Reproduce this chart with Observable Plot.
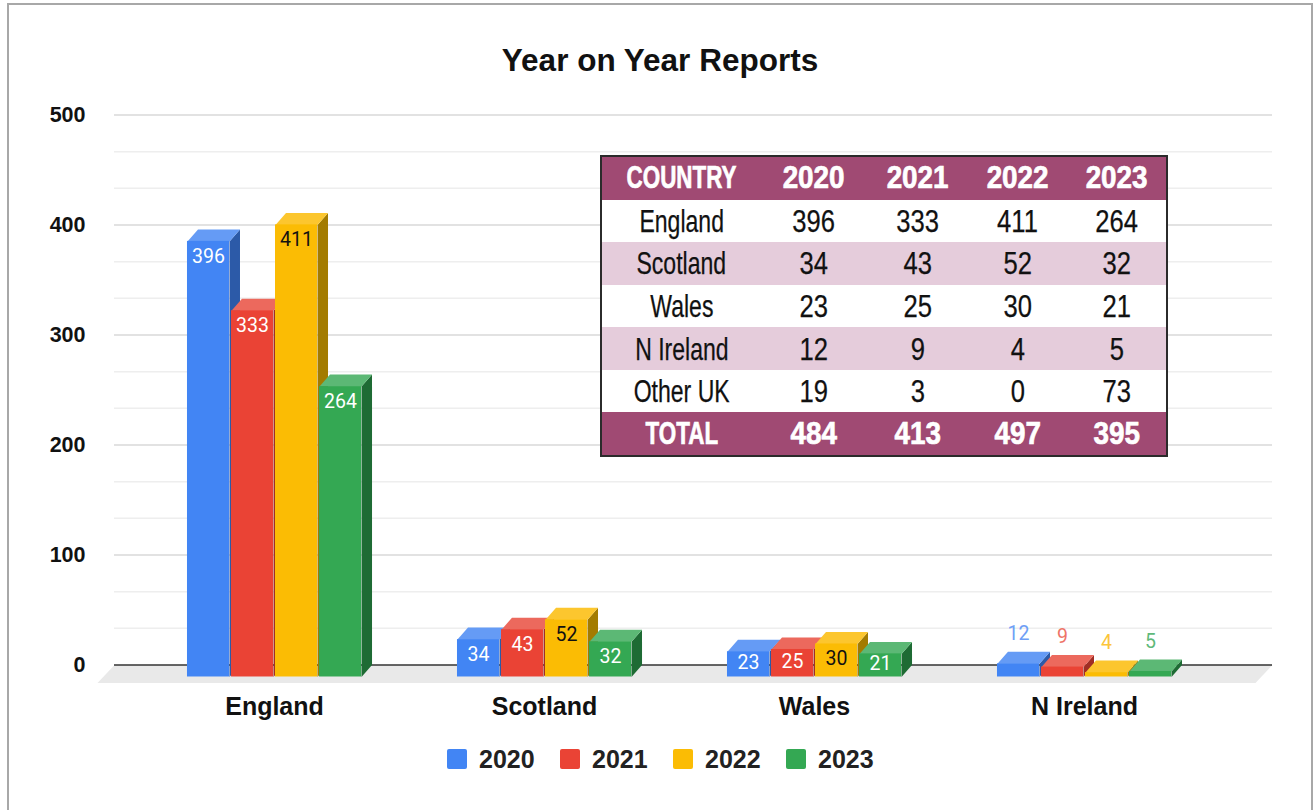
<!DOCTYPE html>
<html>
<head>
<meta charset="utf-8">
<script src="https://cdn.jsdelivr.net/npm/d3@7"></script>
<script src="https://cdn.jsdelivr.net/npm/@observablehq/plot@0.6"></script>
<style>
html,body{margin:0;padding:0;background:#fff;}
#page{position:relative;width:1313px;height:810px;overflow:hidden;background:#fff;font-family:"Liberation Sans",Arial,sans-serif;}
#frame{position:absolute;left:7px;top:3px;width:1306px;height:815px;border:2px solid #a8a8a8;box-sizing:border-box;pointer-events:none;}
#title{height:90px;box-sizing:border-box;padding-top:39px;padding-left:7px;text-align:center;font-weight:bold;font-size:31.5px;line-height:42px;color:#111;}
#chart svg{display:block;}
#legend{position:absolute;left:447px;top:744px;display:flex;align-items:center;font-size:25px;font-weight:bold;color:#222;line-height:30px;}
#legend .sw{width:20px;height:20px;border-radius:2px;margin-right:12px;}
#legend .it{display:flex;align-items:center;margin-right:0;width:113px;}
#tbl{position:absolute;left:600px;top:155px;width:568px;height:302px;border:2px solid #2b2b2b;box-sizing:border-box;border-collapse:collapse;table-layout:fixed;font-family:"Liberation Sans",sans-serif;color:#111;text-align:center;font-size:32px;background:#fff;}
#tbl td{padding:0;height:42.5px;overflow:hidden;line-height:36px;white-space:nowrap;}
#tbl td span{display:inline-block;position:relative;-webkit-text-stroke:0.25px #111;}
#tbl tr.h td{background:#a04a73;color:#fff;font-weight:bold;}
#tbl tr.h td span{top:-1px;-webkit-text-stroke:0.7px #fff;}
#tbl tr.p td{background:#e5ccdb;}
</style>
</head>
<body>
<div id="page">
  <div id="frame"></div>
  <div id="title">Year on Year Reports</div>
  <div id="chart"></div>
  <table id="tbl"></table>
  <div id="legend"></div>
</div>
<script>
const countries = ["England", "Scotland", "Wales", "N Ireland"];
const years = ["2020", "2021", "2022", "2023"];
const v2020 = [396, 34, 23, 12];
const v2021 = [333, 43, 25, 9];
const v2022 = [411, 52, 30, 4];
const v2023 = [264, 32, 21, 5];
const seriesValues = [v2020, v2021, v2022, v2023];

const frontColors = ["#4285f4", "#ea4335", "#fbbc04", "#34a853"];
const topColors = ["#659bf5", "#ec695d", "#fcc62e", "#5cb875"];
const sideColors = ["#2c5aa8", "#a02e25", "#a37b00", "#1e6b34"];
const outerLabelColors = ["#6f9ff6", "#ee7468", "#fcc53a", "#5fb97a"];
const insideTextColors = ["#ffffff", "#ffffff", "#111111", "#ffffff"];

const tableHead = ["COUNTRY", "2020", "2021", "2022", "2023"];
const tableRows = [
  ["England", 396, 333, 411, 264],
  ["Scotland", 34, 43, 52, 32],
  ["Wales", 23, 25, 30, 21],
  ["N Ireland", 12, 9, 4, 5],
  ["Other UK", 19, 3, 0, 73]
];
const tableTotal = ["TOTAL", 484, 413, 497, 395];
const tableCols = [160, 106, 102, 98, 100];

// geometry in data units
const step = 0.163, barW = 0.1556, depthX = 0.0389, depthY = 10.9;
const xDomain = [-0.5926, 3.6963];
const floorX = 0.063, floorY = 16.4;
const labelInset = 13.6, labelLift = 1.8;

const bars = [];
countries.forEach((c, i) => years.forEach((yr, j) => {
  const v = seriesValues[j][i];
  const x1 = i + (j - 1.5) * step - barW / 2;
  const y1 = -depthY, y2 = v - depthY;
  bars.push({c, i, j, yr, v, x1, x2: x1 + barW, xm: x1 + barW / 2, y1, y2,
    labelY: Math.max(y2 - labelInset, (y1 + y2) / 2 + labelLift)});
}));

const faces = [];
bars.forEach(b => {
  const id = b.c + b.yr;
  [[b.x2, b.y1], [b.x2 + depthX, 0], [b.x2 + depthX, b.v], [b.x2, b.y2]].forEach(([x, y]) =>
    faces.push({id: id + "s", x, y, fill: sideColors[b.j]}));
  [[b.x1, b.y2], [b.x2, b.y2], [b.x2 + depthX, b.v], [b.x1 + depthX, b.v]].forEach(([x, y]) =>
    faces.push({id: id + "t", x, y, fill: topColors[b.j]}));
});

const floor = [
  {id: "floor", x: xDomain[0], y: 0},
  {id: "floor", x: xDomain[1], y: 0},
  {id: "floor", x: xDomain[1] - floorX, y: -floorY},
  {id: "floor", x: xDomain[0] - floorX, y: -floorY}
];

const major = [0, 100, 200, 300, 400, 500];
const minor = [];
major.slice(0, -1).forEach(m => { minor.push(m + 100 / 3, m + 200 / 3); });

const insideBars = bars.filter(b => b.i < 3);
const outerBars = bars.filter(b => b.i === 3);

const plot = Plot.plot({
  width: 1313,
  height: 640,
  marginLeft: 114,
  marginRight: 41,
  marginTop: 24.5,
  marginBottom: 65.5,
  style: {background: "transparent", overflow: "visible"},
  x: {domain: xDomain, axis: null},
  y: {domain: [0, 500], axis: null},
  color: {type: "identity"},
  marks: [
    Plot.ruleY(minor, {stroke: "#eeeeee", strokeWidth: 1.5}),
    Plot.ruleY(major.slice(1), {stroke: "#d9d9d9", strokeWidth: 1.5}),
    Plot.line(floor, {x: "x", y: "y", z: "id", fill: "#e9e9e9", stroke: "none", curve: "linear-closed"}),
    Plot.ruleY([0], {stroke: "#333333", strokeWidth: 1.5}),
    Plot.line(faces, {x: "x", y: "y", z: "id", fill: "fill", stroke: "none", curve: "linear-closed"}),
    Plot.rect(bars, {x1: "x1", x2: "x2", y1: "y1", y2: "y2", fill: d => frontColors[d.j]}),
    Plot.text(insideBars, {x: "xm", y: "labelY", text: d => String(d.v), fill: d => insideTextColors[d.j],
      fontFamily: "Roboto", fontSize: 19.5}),
    Plot.text(outerBars, {x: "xm", y: "v", text: d => String(d.v), dy: -18, fill: d => outerLabelColors[d.j],
      fontFamily: "Roboto", fontSize: 19.5}),
    Plot.axisY({ticks: major, tickSize: 0, tickPadding: 29, label: null, anchor: "left",
      fontFamily: "Liberation Sans", fontWeight: "bold", fontSize: 21.5, fill: "#111"}),
    Plot.axisX({ticks: [0, 1, 2, 3], tickFormat: i => countries[i], tickSize: 0, tickPadding: 32, label: null,
      anchor: "bottom", fontFamily: "Liberation Sans", fontWeight: "bold", fontSize: 25, fill: "#111"})
  ]
});
document.getElementById("chart").appendChild(plot);

// table
const tbl = d3.select("#tbl");
const cg = tbl.append("colgroup");
tableCols.forEach(w => cg.append("col").style("width", w + "px"));
const addRow = (cells, cls) => {
  const tr = tbl.append("tr").attr("class", cls);
  const bold = cls === "h";
  cells.forEach((c, k) => {
    const sx = k === 0 ? (bold ? 0.7 : 0.72) : (bold ? 0.87 : 0.8);
    tr.append("td").append("span").text(c).style("transform", `scaleX(${sx})`);
  });
};
addRow(tableHead, "h");
tableRows.forEach((r, i) => addRow(r, i % 2 ? "p" : ""));
addRow(tableTotal, "h");

// legend
const lg = d3.select("#legend");
years.forEach((y, j) => {
  const it = lg.append("div").attr("class", "it");
  it.append("div").attr("class", "sw").style("background", frontColors[j]);
  it.append("span").text(y);
});
</script>
</body>
</html>
